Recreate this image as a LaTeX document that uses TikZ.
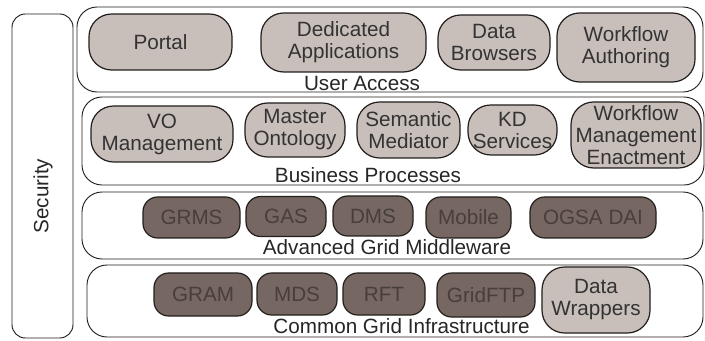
\documentclass[tikz,border=0pt]{standalone}
\usepackage{fontspec}
\setmainfont{Liberation Sans}
\definecolor{lightbox}{RGB}{200,190,186}
\definecolor{darkbox}{RGB}{118,103,98}
\definecolor{darktext}{RGB}{72,62,58}
\definecolor{edge}{RGB}{34,30,28}
\begin{document}
\begin{tikzpicture}[x=.75pt,y=-.75pt, line join=round,
    font=\fontsize{15.5}{16.5}\selectfont,
    sz/.style 2 args={minimum width=#1*.75pt, minimum height=#2*.75pt},
    layer/.style={draw=edge, line width=.7pt, rounded corners=15pt, inner sep=0pt},
    lbox/.style={draw=edge, line width=.9pt, fill=lightbox, rounded corners=17pt,
        inner sep=0pt, align=center, text=black!80},
    dbox/.style={draw=edge, line width=.9pt, fill=darkbox, rounded corners=11pt,
        inner sep=0pt, align=center, text=darktext},
    ttl/.style={anchor=base, text=black!85}]
    \useasboundingbox (0,0) rectangle (705,341);
    % security column
    \node[layer, sz={61}{324}, rounded corners=10pt] (sec) at (42.5,176) {};
    \node[rotate=90, text=black!85] (sectxt) at (43,196) {Security};
    % the four layers
    \node[layer, sz={626}{85}] (ua) at (390,49.5) {};
    \node[layer, sz={622}{88}] (bp) at (393,141) {};
    \node[layer, sz={621}{67}] (agm) at (392.5,225.5) {};
    \node[layer, sz={616}{72}] (cgi) at (395,301) {};
    \node[ttl] (uatxt) at (362,91) {User Access};
    \node[ttl] (bptxt) at (368,183) {Business Processes};
    \node[ttl] (agmtxt) at (387,255) {Advanced Grid Middleware};
    \node[ttl] (cgitxt) at (401.5,333) {Common Grid Infrastructure};
    % user access
    \node[lbox, sz={143}{56}] (portal) at (160.5,42) {Portal};
    \node[lbox, sz={165}{59}] (dedapp) at (343.5,42.5) {Dedicated\\Applications};
    \node[lbox, sz={112}{55}] (databr) at (494,42.5) {Data\\Browsers};
    \node[lbox, sz={138}{69}] (wfauth) at (626,47.5) {Workflow\\Authoring};
    % business processes
    \node[lbox, sz={142}{56}] (vomgmt) at (162,134) {VO\\Management};
    \node[lbox, sz={100}{54}] (ontol) at (295,130) {Master\\Ontology};
    \node[lbox, sz={103}{56}] (semmed) at (408.5,130) {Semantic\\Mediator};
    \node[lbox, sz={89}{50}] (kdserv) at (512.5,130) {KD\\Services};
    \node[lbox, sz={130}{66}] (wfmgmt) at (636,135) {Workflow\\Management\\Enactment};
    % advanced grid middleware
    \node[dbox, sz={97}{41}] (grms) at (191.5,217.5) {GRMS};
    \node[dbox, sz={80}{40}] (gas) at (286,216.5) {GAS};
    \node[dbox, sz={80}{40}] (dms) at (373,216) {DMS};
    \node[dbox, sz={85}{41}] (mobile) at (468.5,217.5) {Mobile};
    \node[dbox, sz={126}{41}] (ogsadai) at (593,217.5) {OGSA DAI};
    % common grid infrastructure
    \node[dbox, sz={98}{43}] (gram) at (203,294.5) {GRAM};
    \node[dbox, sz={80}{42}] (mds) at (297,294) {MDS};
    \node[dbox, sz={82}{42}] (rft) at (384,294) {RFT};
    \node[dbox, sz={98}{44}] (gridftp) at (486,295) {GridFTP};
    \node[lbox, sz={108}{66}] (datawr) at (596,300) {Data\\Wrappers};
\end{tikzpicture}
\end{document}
